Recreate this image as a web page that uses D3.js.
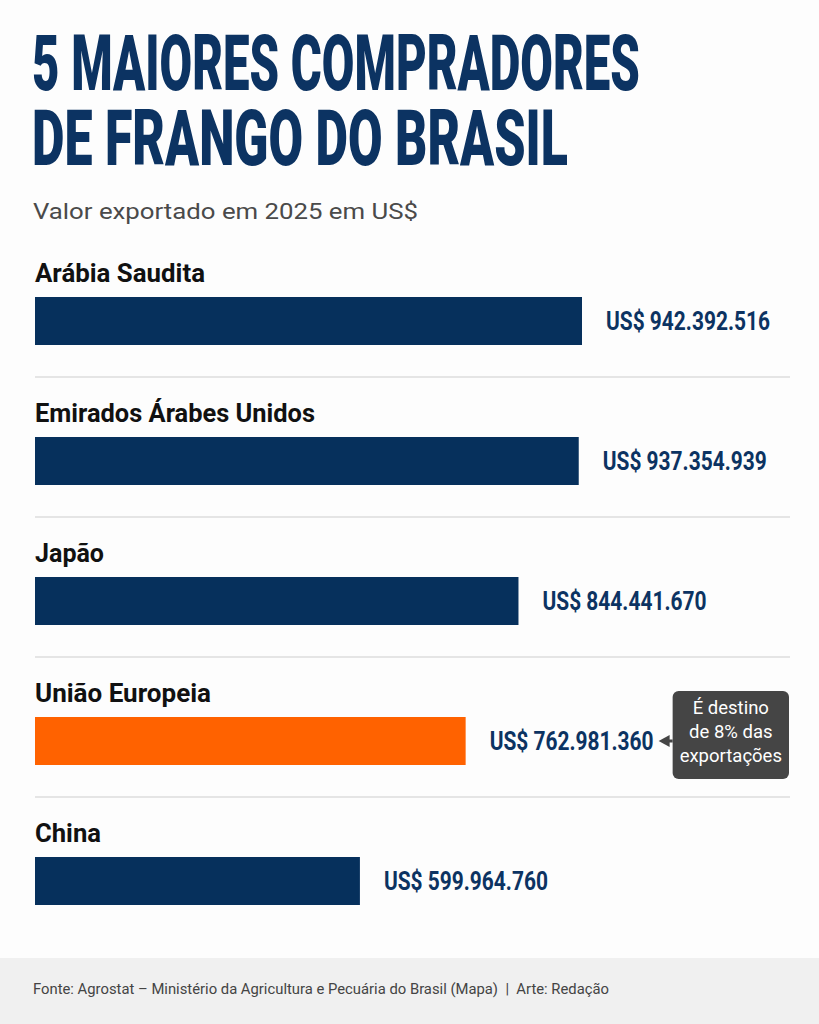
<!DOCTYPE html>
<html><head><meta charset="utf-8">
<script src="https://cdn.jsdelivr.net/npm/d3@7"></script>
<style>html,body{margin:0;padding:0;background:#fdfdfd}svg{display:block}</style>
</head><body>
<script>
const categories = ["Arábia Saudita","Emirados Árabes Unidos","Japão","União Europeia","China"];
const values = [942392516, 937354939, 844441670, 762981360, 599964760];
const valueLabels = ["US$ 942.392.516","US$ 937.354.939","US$ 844.441.670","US$ 762.981.360","US$ 599.964.760"];
const highlight = ["União Europeia"];
const titleLines = ["5 MAIORES COMPRADORES","DE FRANGO DO BRASIL"];
const subtitle = "Valor exportado em 2025 em US$";
const calloutLines = ["É destino","de 8% das","exportações"];
const source = "Fonte: Agrostat – Ministério da Agricultura e Pecuária do Brasil (Mapa)  |  Arte: Redação";

const W=819,H=1024;
const navy="#06305c", orange="#ff6200";
const svg=d3.select("body").append("svg").attr("width",W).attr("height",H);
svg.append("rect").attr("width",W).attr("height",H).attr("fill","#fdfdfd");

// Title: measured then squeezed horizontally to reference widths
const tW=[608,536];
titleLines.forEach((t,i)=>{
  const g=svg.append("g");
  const tx=g.append("text").attr("x",0).attr("y",0)
    .attr("font-family","Roboto, 'DejaVu Sans Condensed', sans-serif")
    .attr("font-weight",900).attr("font-size",77).attr("fill","#0c3362").text(t);
  const len=tx.node().getComputedTextLength();
  g.attr("transform",`translate(32,${90+i*75}) scale(${tW[i]/len},1)`);
});
svg.append("text").attr("x",33).attr("y",219)
  .attr("font-family","Roboto, sans-serif").attr("font-size",22).attr("fill","#4a4a4a")
  .attr("textLength",385).attr("lengthAdjust","spacingAndGlyphs").text(subtitle);

// Scales
const y=d3.scaleBand().domain(categories).range([297,297+140*5]).paddingInner(0);
const rowTop=c=>y(c);
const x=d3.scaleLinear().domain([99000000, d3.max(values)]).range([35,582]);
const barH=48, gap=24, valW=164;

// Separators
svg.selectAll(".sep").data(categories.slice(1)).join("line")
  .attr("x1",35).attr("x2",790)
  .attr("y1",c=>rowTop(c)-60).attr("y2",c=>rowTop(c)-60)
  .attr("stroke","#dcdcdc").attr("stroke-width",1.5);

const labW=[170,280,69,176,66];
svg.selectAll(".cat").data(categories).join("text")
  .attr("x",35).attr("y",c=>rowTop(c)-15)
  .attr("font-family","Roboto, sans-serif").attr("font-weight",700).attr("font-size",26).attr("fill","#111")
  .attr("textLength",(c,i)=>labW[i]).attr("lengthAdjust","spacingAndGlyphs")
  .text(c=>c);

svg.selectAll(".bar").data(categories).join("rect")
  .attr("x",35).attr("y",c=>rowTop(c)).attr("height",barH)
  .attr("width",(c,i)=>x(values[i])-35)
  .attr("fill",c=>highlight.includes(c)?orange:navy);

svg.selectAll(".val").data(categories).join("text")
  .attr("x",(c,i)=>x(values[i])+gap).attr("y",c=>rowTop(c)+barH/2+9)
  .attr("font-family","Roboto, sans-serif").attr("font-weight",700).attr("font-size",26).attr("fill","#0c3362")
  .attr("textLength",valW).attr("lengthAdjust","spacingAndGlyphs")
  .text((c,i)=>valueLabels[i]);

// Callout
const hi=categories.indexOf(highlight[0]);
const hy=rowTop(highlight[0])+barH/2;
const tip=x(values[hi])+gap+valW+5;
const bx=Math.max(667,tip+14);
const g=svg.append("g");
g.append("rect").attr("x",bx).attr("y",hy-50).attr("width",789-bx).attr("height",88).attr("rx",6).attr("fill","#454545");
g.append("line").attr("x1",bx).attr("x2",tip+10).attr("y1",hy).attr("y2",hy).attr("stroke","#454545").attr("stroke-width",3);
g.append("path").attr("d",`M${tip},${hy} L${tip+11},${hy-6} L${tip+11},${hy+6} Z`).attr("fill","#454545");
g.selectAll("text").data(calloutLines).join("text")
  .attr("x",bx+(789-bx)/2).attr("y",(d,i)=>hy-27+i*24).attr("text-anchor","middle")
  .attr("font-family","Roboto, sans-serif").attr("font-size",18.5).attr("fill","#fff").text(d=>d);

// Footer
svg.append("rect").attr("x",0).attr("y",958).attr("width",W).attr("height",66).attr("fill","#f0f0f0");
svg.append("text").attr("x",33).attr("y",994).style("white-space","pre")
  .attr("font-family","Roboto, sans-serif").attr("font-size",15).attr("fill","#444")
  .attr("textLength",576).attr("lengthAdjust","spacingAndGlyphs").text(source);
</script>
</body></html>
